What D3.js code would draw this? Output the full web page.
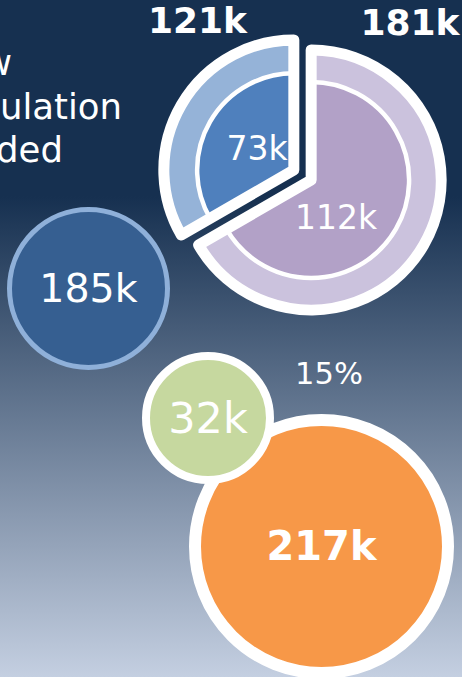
<!DOCTYPE html>
<html><head><meta charset="utf-8">
<script src="https://cdn.jsdelivr.net/npm/d3@7"></script>
<style>html,body{margin:0;padding:0;overflow:hidden;background:#163050}</style>
</head><body><svg id="c" width="462" height="677"></svg>
<script>
// ---- data ----
const sliceNames = ["121k group", "181k group"];
const outerValues = [121, 181];
const innerValues = [73, 112];
const sliceShares = [1, 2];          // angular share of each slice as drawn
const bubbleValues = [185, 217, 32];
const shareLabels = ["15%"];
const introLines = ["New", "population", "added"];
const fmt = v => v + "k";

// ---- layout / style ----
const W = 462, H = 677;
const FONT = "'DejaVu Sans', sans-serif";
const pieC = [302.5, 175], R = 130, explode = 10, ringStroke = 11;
const sliceStyle = [
  {outer: "#95b3d8", inner: "#4f80bd", topLabel: [197.5, 33], inLabel: [257, 160]},
  {outer: "#cbc2dd", inner: "#b2a1c7", topLabel: [410, 35], inLabel: [336, 229]}
];
const bubbleStyle = [
  {cx: 88.5, cy: 288.5, r: 79, fill: "#365f91", stroke: "#8fb0d9", sw: 5, fs: 39.5, fw: "normal"},
  {cx: 321.5, cy: 546.5, r: 126.5, fill: "#f79848", stroke: "#ffffff", sw: 12, fs: 40, fw: "bold"},
  {cx: 208, cy: 418, r: 62, fill: "#c6d89f", stroke: "#ffffff", sw: 8, fs: 43, fw: "normal"}
];
const introRightX = [12, 122, 63], introY = [75, 118.5, 162];

const svg = d3.select("#c");
const defs = svg.append("defs");
const grad = defs.append("linearGradient").attr("id", "bg")
  .attr("x1", 0).attr("y1", 0).attr("x2", 0).attr("y2", 1);
grad.append("stop").attr("offset", 0).attr("stop-color", "#163050");
grad.append("stop").attr("offset", 0.29).attr("stop-color", "#163050");
grad.append("stop").attr("offset", 1).attr("stop-color", "#c4cfe1");
svg.append("rect").attr("width", W).attr("height", H).attr("fill", "url(#bg)");

// intro text
svg.append("g").selectAll("text").data(introLines).join("text")
  .attr("x", (d, i) => introRightX[i]).attr("y", (d, i) => introY[i])
  .attr("text-anchor", "end").attr("font-family", FONT).attr("font-size", 35.5)
  .attr("fill", "#ffffff").text(d => d);

// bubbles (each circle with its label, drawn in order so later ones overlap)
const bubbles = bubbleValues.map((v, i) => ({v, ...bubbleStyle[i]}));
const bg = svg.append("g").selectAll("g").data(bubbles).join("g");
bg.append("circle")
  .attr("cx", d => d.cx).attr("cy", d => d.cy).attr("r", d => d.r)
  .attr("fill", d => d.fill).attr("stroke", d => d.stroke).attr("stroke-width", d => d.sw);
bg.append("text")
  .attr("x", d => d.cx).attr("y", d => d.cy).attr("dy", "0.34em")
  .attr("text-anchor", "middle").attr("font-family", FONT)
  .attr("font-size", d => d.fs).attr("font-weight", d => d.fw)
  .attr("fill", "#ffffff").text(d => fmt(d.v));

svg.append("text").attr("x", 329).attr("y", 384).attr("text-anchor", "middle")
  .attr("font-family", FONT).attr("font-size", 30.5).attr("fill", "#ffffff")
  .text(shareLabels[0]);

// exploded pie
const pie = d3.pie().sort(null).value(d => d.share)
  .startAngle(-2 * Math.PI / 3).endAngle(4 * Math.PI / 3);
const slices = pie(sliceNames.map((n, i) => ({n, share: sliceShares[i], outer: outerValues[i], inner: innerValues[i], i})));
const outerArc = d3.arc().innerRadius(0).outerRadius(R);
const pg = svg.append("g").attr("transform", `translate(${pieC[0]},${pieC[1]})`);
slices.forEach(s => {
  const mid = (s.startAngle + s.endAngle) / 2;
  const dx = Math.sin(mid) * explode, dy = -Math.cos(mid) * explode;
  const st = sliceStyle[s.data.i];
  const g = pg.append("g").attr("transform", `translate(${dx},${dy})`);
  const rIn = d3.scaleSqrt().domain([0, s.data.outer]).range([0, R - ringStroke / 2]);
  const innerArc = d3.arc().innerRadius(0).outerRadius(rIn(s.data.inner));
  g.append("path").attr("d", outerArc(s)).attr("fill", st.outer);
  g.append("path").attr("d", innerArc(s)).attr("fill", st.inner)
    .attr("stroke", "#ffffff").attr("stroke-width", 4.5);
  g.append("path").attr("d", outerArc(s)).attr("fill", "none")
    .attr("stroke", "#ffffff").attr("stroke-width", ringStroke).attr("stroke-linejoin", "round");
  svg.append("text").attr("x", st.topLabel[0]).attr("y", st.topLabel[1])
    .attr("text-anchor", "middle").attr("font-family", FONT).attr("font-size", 36)
    .attr("font-weight", "bold").attr("fill", "#ffffff").text(fmt(s.data.outer));
  svg.append("text").attr("x", st.inLabel[0]).attr("y", st.inLabel[1])
    .attr("text-anchor", "middle").attr("font-family", FONT).attr("font-size", 33)
    .attr("fill", "#ffffff").text(fmt(s.data.inner));
});
</script></body></html>
